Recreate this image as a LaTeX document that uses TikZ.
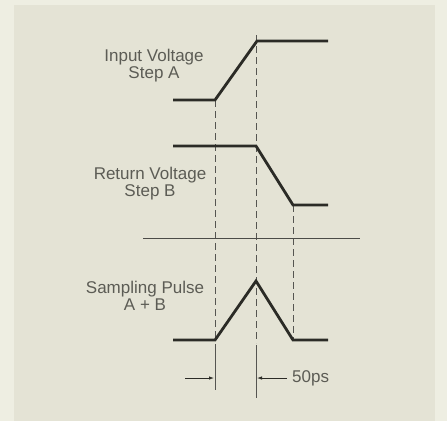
\documentclass[tikz,border=0pt]{standalone}
\usepackage{fontspec}
\setmainfont{Liberation Sans}
\usetikzlibrary{arrows.meta}
\definecolor{outerbg}{HTML}{EEEEE2}
\definecolor{panelbg}{HTML}{E4E3D5}
\definecolor{inkc}{HTML}{2B2B26}
\definecolor{textc}{HTML}{5C5C55}
\tikzset{
  wave/.style={line width=2.8pt, color=inkc, line join=miter, line cap=butt},
  guide/.style={line width=0.8pt, color=inkc!80, dash pattern=on 7pt off 4pt},
  tick/.style={line width=0.8pt, color=inkc!80},
  rule/.style={line width=1pt, color=inkc!85},
  dim/.style={line width=0.8pt, color=inkc, -{Latex[length=5pt,width=3.5pt]}},
  lbl/.style={font=\fontsize{17}{17}\selectfont, text=textc, align=center, inner sep=0pt}
}
\begin{document}
\begin{tikzpicture}[x=1pt,y=-1pt]
\fill[outerbg] (0,0) rectangle (447,421);
\fill[panelbg] (14,5) rectangle (435,421);
\useasboundingbox (0,0) rectangle (447,421);

% waveform A
\coordinate (a0) at (173,100);
\coordinate (a1) at (215,100);
\coordinate (a2) at (257,41);
\coordinate (a3) at (328,41);
% waveform B
\coordinate (b0) at (173,146);
\coordinate (b1) at (256,146);
\coordinate (b2) at (293,205);
\coordinate (b3) at (328,205);
% pulse
\coordinate (p0) at (173,340);
\coordinate (p1) at (215,340);
\coordinate (p2) at (256,281);
\coordinate (p3) at (293,340);
\coordinate (p4) at (328,340);

% guides
\coordinate (g1t) at (215,100);
\coordinate (g1b) at (215,340);
\coordinate (g2t) at (256,35);
\coordinate (g2b) at (256,343);
\coordinate (g3t) at (293,205);
\coordinate (g3b) at (293,340);
\draw[guide] (g1t) -- (g1b);
\draw[guide] (g2t) -- (g2b);
\draw[guide] (g3t) -- (g3b);

% ticks below
\coordinate (t1t) at (215,344);
\coordinate (t1b) at (215,390);
\coordinate (t2t) at (256,345);
\coordinate (t2b) at (256,398);
\draw[tick] (t1t) -- (t1b);
\draw[tick] (t2t) -- (t2b);

% separator
\coordinate (r0) at (143,238);
\coordinate (r1) at (360,238);
\draw[rule] (r0) -- (r1);

\draw[wave] (a0) -- (a1) -- (a2) -- (a3);
\draw[wave] (b0) -- (b1) -- (b2) -- (b3);
\draw[wave] (p0) -- (p1) -- (p2) -- (p3) -- (p4);

% dimension arrows
\coordinate (d1s) at (185,378);
\coordinate (d1e) at (214,378);
\coordinate (d2s) at (287,378);
\coordinate (d2e) at (257,378);
\draw[dim] (d1s) -- (d1e);
\draw[dim] (d2s) -- (d2e);
\node[lbl, anchor=west] (ps) at (292,378) {50ps};

% labels
\node[lbl] (la) at (154,65.5) {Input Voltage\\Step A};
\node[lbl] (lb) at (150,184) {Return Voltage\\Step B};
\node[lbl] (lc) at (145,296) {Sampling Pulse\\A + B};
\end{tikzpicture}
\end{document}
